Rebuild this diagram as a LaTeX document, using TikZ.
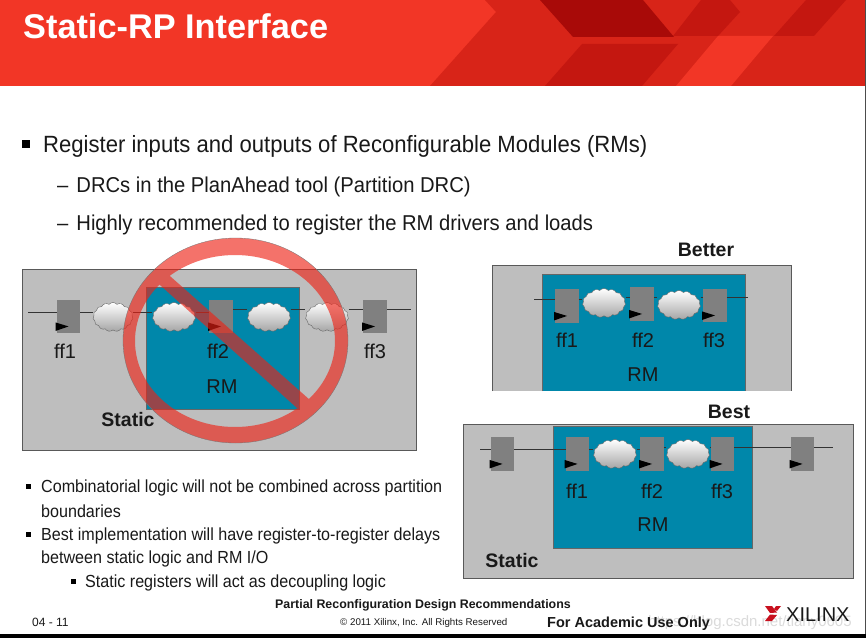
\documentclass[tikz,border=0pt]{standalone}
\usepackage{fontspec}
\setmainfont{Liberation Sans}
\usetikzlibrary{shapes.symbols,calc}
\definecolor{hdA}{RGB}{242,54,38}
\definecolor{hdB}{RGB}{216,36,24}
\definecolor{hdC}{RGB}{196,23,16}
\definecolor{hdD}{RGB}{168,10,8}
\definecolor{panelgray}{RGB}{190,190,190}
\definecolor{rmteal}{RGB}{0,135,170}
\definecolor{ffgray}{RGB}{128,128,128}
\definecolor{nored}{RGB}{238,33,20}
\definecolor{txt}{RGB}{25,25,25}
\definecolor{logored}{RGB}{200,16,30}
\newcommand{\nar}[1]{\scalebox{0.94}[1]{#1}}
\newcommand{\narr}[1]{\scalebox{0.92}[1]{#1}}
\tikzset{
  x=1pt,y=-1pt,
  panel/.style={fill=panelgray,draw=black!65,line width=.8pt},
  rmbox/.style={fill=rmteal,draw=black!60,line width=.6pt},
  ffbox/.style={rectangle,fill=ffgray,inner sep=0pt,minimum width=23.5pt,minimum height=33.5pt},
  logic/.style={cloud,cloud puffs=15,cloud puff arc=100,cloud ignores aspect,draw=black!60,line width=.4pt,
    top color=white,middle color=white,bottom color=black!35,inner sep=0pt,minimum width=43pt,minimum height=29pt},
  wire/.style={draw=black!80,line width=.7pt},
  clk/.style={fill=black},
  lbl/.style={font=\fontsize{20}{20}\selectfont,text=txt,inner sep=0pt},
  blbl/.style={font=\fontsize{19.5}{20}\selectfont\bfseries,text=txt,inner sep=0pt},
  line/.style={anchor=west,inner sep=0pt,text=txt},
  big/.style={line,font=\fontsize{23.5}{24}\selectfont},
  bigsub/.style={line,font=\fontsize{21.5}{22}\selectfont},
  mid/.style={line,font=\fontsize{17.5}{18}\selectfont},
  sbul/.style={fill=black},
}
\newcommand{\clock}[1]{\fill[clk] ($(#1.south west)+(-1,-11)$) -- ++(13,4) -- ++(-13,4.5) -- cycle;}
\begin{document}
\begin{tikzpicture}
\useasboundingbox (0,0) rectangle (866,639);
\fill[white] (0,0) rectangle (866,639);
% header
\fill[hdA] (0,0) rectangle (865,86);
\fill[hdB] (485,0) -- (496,12) -- (430,86) -- (865,86) -- (865,0) -- cycle;
\fill[hdA] (718,36) -- (773,36) -- (731,86) -- (676,86) -- cycle;
\fill[hdD] (540,0) -- (643,0) -- (674,37) -- (573,37) -- cycle;
\fill[hdC] (582,44) -- (678,44) -- (642,86) -- (545,86) -- cycle;
\fill[hdC] (701,0) -- (730,0) -- (740,12) -- (718,36) -- (673,36) -- cycle;
\fill[hdC] (806,0) -- (846,0) -- (814,36) -- (774,36) -- cycle;
\fill[black!70] (865,0) rectangle (866,634);
\fill[black] (0,634) rectangle (866,637.5);
\node[anchor=west,inner sep=0pt,text=white,font=\fontsize{34.3}{34}\selectfont\bfseries] (title) at (23,26) {Static-RP Interface};
% bullets
\fill[sbul] (22,140) rectangle (30,148);
\node[big] (t1) at (43,146) {\nar{Register inputs and outputs of Reconfigurable Modules (RMs)}};
\node[bigsub] (t2) at (57,187) {\nar{–\hspace{8.5pt}DRCs in the PlanAhead tool (Partition DRC)}};
\node[bigsub] (t3) at (57,225) {\nar{–\hspace{8.5pt}Highly recommended to register the RM drivers and loads}};
% left panel
\fill[panel] (22,269) rectangle (416,450);
\fill[rmbox] (146,287) rectangle (299,409);
\node[ffbox] (lf1) at (68.5,316.5) {};
\node[ffbox] (lf2) at (221,316.5) {};
\node[ffbox] (lf3) at (375,316.5) {};
\clock{lf1}\clock{lf2}\clock{lf3}
\node[logic,minimum width=40pt] (lc1) at (113,317) {};
\node[logic] (lc2) at (174,317) {};
\node[logic] (lc3) at (269,317) {};
\node[logic] (lc4) at (327,317) {};
\coordinate (lwl) at (28,312);
\coordinate (lwr) at (411,309.5);
\draw[wire] (lwl) -- (lf1.west |- lwl) (lf1.east |- lwl) -- (lc1.west |- lwl)
  (lc1.east |- lwl) -- (lc2.west |- lwl) (lc2.east |- lwl) -- (lf2.west |- lwl)
  (lf2.east |- lwr) -- (lc3.west |- lwr) (lc3.east |- lwr) -- (lc4.west |- lwr)
  (lc4.east |- lwr) -- (lf3.west |- lwr) (lf3.east |- lwr) -- (lwr);
\node[lbl] (lt1) at (65,351) {ff1};
\node[lbl] (lt2) at (218,351) {ff2};
\node[lbl] (lt3) at (375,351) {ff3};
\node[lbl] (lt4) at (222,387) {RM};
\node[blbl] (lt5) at (128,419.5) {Static};
% prohibition sign
\begin{scope}[transparency group,opacity=.63]
\fill[nored,even odd rule] (235.5,340.5) ellipse [x radius=112.5,y radius=102.5]
  (235,341) ellipse [x radius=100,y radius=86];
\fill[nored] (151,277) -- (162,269) -- (319,408) -- (307,417) -- cycle;
\end{scope}
\draw[black!55,line width=.3pt] (235.5,340.5) ellipse [x radius=112.5,y radius=102.5];
% better panel
\fill[panelgray] (492,265) rectangle (791,391);
\draw[black!65,line width=.8pt] (492,391) -- (492,265) -- (791,265) -- (791,391);
\fill[rmteal] (542,274) rectangle (745,391);
\draw[black!60,line width=.6pt] (542,391) -- (542,274) -- (745,274) -- (745,391);
\node[ffbox] (bf1) at (567,306) {};
\node[ffbox] (bf2) at (642,304) {};
\node[ffbox] (bf3) at (715,305.5) {};
\clock{bf1}\clock{bf2}\clock{bf3}
\node[logic] (bc1) at (604,303) {};
\node[logic] (bc2) at (679,305) {};
\coordinate (bwl) at (534,299);
\coordinate (bwr) at (748,297);
\draw[wire] (bwl) -- (bf1.west |- bwl) (bf1.east |- bwl) -- (bc1.west |- bwl)
  (bc1.east |- bwr) -- (bf2.west |- bwr) (bf2.east |- bwr) -- (bc2.west |- bwr)
  (bc2.east |- bwr) -- (bf3.west |- bwr) (bf3.east |- bwr) -- (bwr);
\node[lbl] at (567,340) (bt1) {ff1};
\node[lbl] at (643,340) (bt2) {ff2};
\node[lbl] at (714,340) (bt3) {ff3};
\node[lbl] at (643,375) (bt4) {RM};
\node[blbl] at (706,250) (bt5) {Better};
% best panel
\fill[panel] (463,424) rectangle (853,578);
\fill[rmbox] (553,426) rectangle (752,548);
\node[ffbox] (cf0) at (502.5,454) {};
\node[ffbox] (cf1) at (577.5,454) {};
\node[ffbox] (cf2) at (652,454) {};
\node[ffbox] (cf3) at (722.5,454) {};
\node[ffbox] (cf4) at (802.5,454) {};
\clock{cf0}\clock{cf1}\clock{cf2}\clock{cf3}\clock{cf4}
\node[logic] (cc1) at (615,454) {};
\node[logic] (cc2) at (688,454) {};
\coordinate (cwl) at (480,449);
\coordinate (cwr) at (833,447);
\draw[wire] (cwl) -- (cf0.west |- cwl) (cf0.east |- cwl) -- (cf1.west |- cwl)
  (cf1.east |- cwl) -- (cc1.west |- cwl) (cc1.east |- cwl) -- (cf2.west |- cwl)
  (cf2.east |- cwr) -- (cc2.west |- cwr) (cc2.east |- cwr) -- (cf3.west |- cwr)
  (cf3.east |- cwr) -- (cf4.west |- cwr) (cf4.east |- cwr) -- (cwr);
\node[lbl] at (577,491) (ct1) {ff1};
\node[lbl] at (652,491) (ct2) {ff2};
\node[lbl] at (722,491) (ct3) {ff3};
\node[lbl] at (653,525) (ct4) {RM};
\node[blbl] at (512,561) (ct5) {Static};
\node[blbl] at (729,412) (ct6) {Best};
% lower text
\fill[sbul] (26,484) rectangle (31,489);
\fill[sbul] (26,532) rectangle (31,537);
\fill[sbul] (71,579) rectangle (76,584);
\node[mid] (m1) at (41,488) {\narr{Combinatorial logic will not be combined across partition}};
\node[mid] (m2) at (41,511) {\narr{boundaries}};
\node[mid] (m3) at (41,536) {\narr{Best implementation will have register-to-register delays}};
\node[mid] (m4) at (41,559) {\narr{between static logic and RM I/O}};
\node[mid] (m5) at (85,583) {\narr{Static registers will act as decoupling logic}};
% footer
\node[line,text=black!14,font=\fontsize{15}{15}\selectfont] (wm) at (648,623) {https://blog.csdn.net/tiany0605};
\node[line,font=\fontsize{12.4}{13}\selectfont\bfseries] (f1) at (275,605) {Partial Reconfiguration Design Recommendations};
\node[line,font=\fontsize{12}{12}\selectfont] (f2) at (32,622) {04 - 11};
\node[line,font=\fontsize{9.75}{10}\selectfont] (f3) at (340,622.5) {© 2011 Xilinx, Inc. All Rights Reserved};
\node[line,font=\fontsize{14.5}{15}\selectfont\bfseries] (f4) at (547,624) {For Academic Use Only};
\node[line,font=\fontsize{20}{20}\selectfont] (f5) at (786,615) {XILINX};
\fill[logored] (765,606) -- (772,606) -- (777,612.5) -- (770,613) -- cycle;
\fill[logored] (765,621) -- (772,621) -- (777,615) -- (770,614.5) -- cycle;
\fill[logored] (781,606) -- (776,606) -- (774,609) -- (777,611) -- cycle;
\end{tikzpicture}
\end{document}
